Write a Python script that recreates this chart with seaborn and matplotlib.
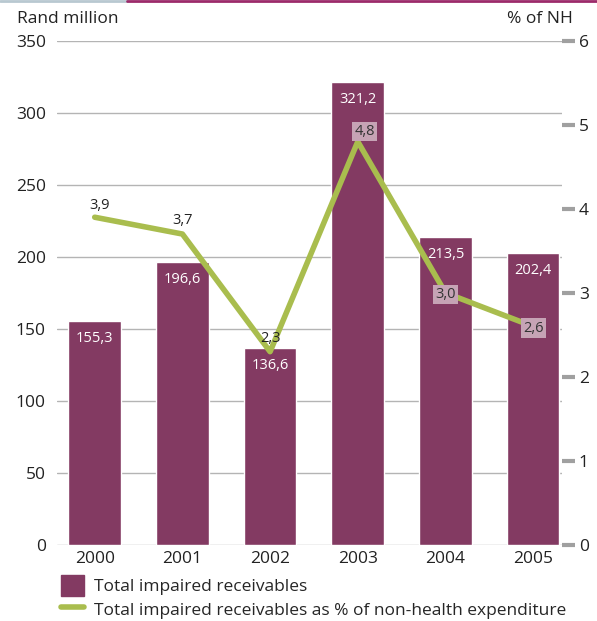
import numpy as np
import pandas as pd
import seaborn as sns
import matplotlib.pyplot as plt
from matplotlib.lines import Line2D
from matplotlib.patches import Patch

years = ["2000", "2001", "2002", "2003", "2004", "2005"]
receivables = [155.3, 196.6, 136.6, 321.2, 213.5, 202.4]
pct_nh = [3.9, 3.7, 2.3, 4.8, 3.0, 2.6]
left_ticks = [0, 50, 100, 150, 200, 250, 300, 350]
right_ticks = [0, 1, 2, 3, 4, 5, 6]

bar_col = "#833a62"
line_col = "#a9bd4e"
grid_col = "#b4b4b4"
box_col = "#c6a3b5"

sns.set_style("white")
plt.rcParams["font.family"] = ["Open Sans", "DejaVu Sans"]
plt.rcParams["font.size"] = 12

df = pd.DataFrame({"year": years, "value": receivables, "pct": pct_nh})

fig = plt.figure(figsize=(5.97, 6.21), dpi=100)
ax = fig.add_axes([0.0955, 0.1224, 0.846, 0.812])

for t in left_ticks:
    ax.axhline(t, color=grid_col, lw=1, zorder=0)

sns.barplot(data=df, x="year", y="value", color=bar_col, saturation=1,
            width=0.6, ax=ax, zorder=2)
ax.set_xlim(-0.43, 5.33)
ax.set_ylim(0, 350)
ax.set_yticks(left_ticks)
ax.tick_params(axis="y", length=0, pad=8, labelsize=12.5, colors="#222222")
ax.tick_params(axis="x", length=0, pad=4, labelsize=12.5, colors="#222222")
ax.set_xlabel("")
ax.set_ylabel("")
for s in ax.spines.values():
    s.set_visible(False)

for i, v in enumerate(receivables):
    ax.text(i, v - 12, f"{v:.1f}".replace(".", ","), color="white",
            ha="center", va="center", fontsize=10.5, zorder=5)

ax2 = ax.twinx()
sns.lineplot(x=np.arange(len(years)), y=pct_nh, color=line_col, lw=4,
             ax=ax2, zorder=3)
ax2.set_ylim(0, 6)
ax2.set_yticks(right_ticks)
ax2.tick_params(axis="y", length=9, width=3, color="#a0a0a0", pad=3,
                labelsize=12.5, colors="#222222")
for t in ax2.yaxis.get_major_ticks():
    t.tick2line.set_color("#a0a0a0")
for s in ax2.spines.values():
    s.set_visible(False)

# line labels: first three plain above, last three boxed
offsets = [(0.06, 0.14), (0.0, 0.16), (0.0, 0.16), (0.08, 0.12), (0.0, -0.02), (0.0, -0.02)]
for i, p in enumerate(pct_nh):
    dx, dy = offsets[i]
    lab = f"{p:.1f}".replace(".", ",")
    if i < 3:
        ax2.text(i + dx, p + dy, lab, ha="center", va="center",
                 fontsize=10.5, color="#222222", zorder=6)
    else:
        ax2.text(i + dx, p + dy, lab, ha="center", va="center",
                 fontsize=10.5, color="#333333", zorder=6,
                 bbox=dict(boxstyle="square,pad=0.15", fc=box_col, ec="none"))

fig.text(0.028, 0.97, "Rand million", fontsize=12.5, ha="left", va="center", color="#222222")
fig.text(0.96, 0.97, "% of NH", fontsize=12.5, ha="right", va="center", color="#222222")

# top rule
fig.add_artist(Line2D([0, 0.213], [0.998, 0.998], color="#b8c8d0", lw=2, transform=fig.transFigure))
fig.add_artist(Line2D([0.213, 1], [0.998, 0.998], color="#9c2a6a", lw=2, transform=fig.transFigure))

handles = [Patch(color=bar_col),
           Line2D([0], [0], color=line_col, lw=4)]
labels = ["Total impaired receivables",
          "Total impaired receivables as % of non-health expenditure"]
fig.legend(handles, labels, loc="upper left", bbox_to_anchor=(0.088, 0.08 + 0.008),
           frameon=False, fontsize=12.5, handlelength=1.3, handleheight=1.5,
           handletextpad=0.6, labelspacing=0.15, borderpad=0)

fig.savefig("out.png", dpi=100)
